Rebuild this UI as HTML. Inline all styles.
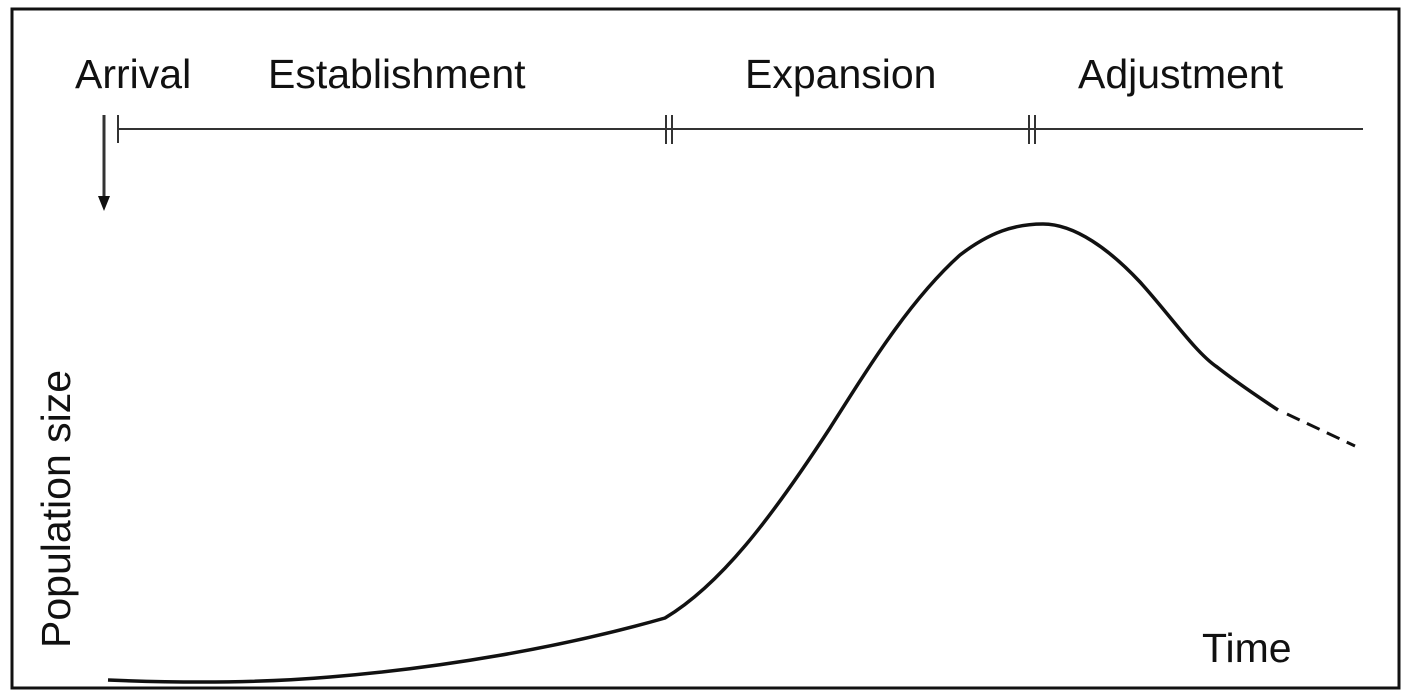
<!DOCTYPE html>
<html><head><meta charset="utf-8"><style>
html,body{margin:0;padding:0;background:#fff;}
svg{display:block;}
text{font-family:"Liberation Sans",Arial,sans-serif;font-size:41px;fill:#111;}
</style></head><body>
<svg width="1412" height="700" viewBox="0 0 1412 700" xmlns="http://www.w3.org/2000/svg">
<rect x="12" y="9" width="1387" height="679" fill="none" stroke="#111" stroke-width="3"/>
<text x="75" y="88">Arrival</text>
<text x="268" y="88">Establishment</text>
<text x="745" y="88">Expansion</text>
<text x="1078" y="88">Adjustment</text>
<text x="1202" y="662">Time</text>
<text transform="translate(70,648) rotate(-90)">Population size</text>
<g stroke="#333" stroke-width="2" fill="none">
<line x1="118" y1="129" x2="1363" y2="129"/>
<line x1="118" y1="115" x2="118" y2="143"/>
<line x1="666" y1="115" x2="666" y2="144"/>
<line x1="672" y1="115" x2="672" y2="144"/>
<line x1="1029" y1="115" x2="1029" y2="144"/>
<line x1="1035" y1="115" x2="1035" y2="144"/>
</g>
<line x1="104" y1="115" x2="104" y2="198" stroke="#333" stroke-width="3"/>
<polygon points="98,196 110,196 104,211" fill="#111"/>
<path d="M108,680 C180,683 260,683 330,677 C440,668 560,648 665,618 C720,585 770,520 830,428 C870,365 910,300 960,255 C990,232 1015,224 1043,224 C1075,224 1110,250 1140,282 C1170,315 1195,352 1217,367 C1240,385 1260,398 1278,410" fill="none" stroke="#111" stroke-width="3.5"/>
<path d="M1287,414 L1355,446" fill="none" stroke="#111" stroke-width="3" stroke-dasharray="14,8"/>
</svg>
</body></html>
